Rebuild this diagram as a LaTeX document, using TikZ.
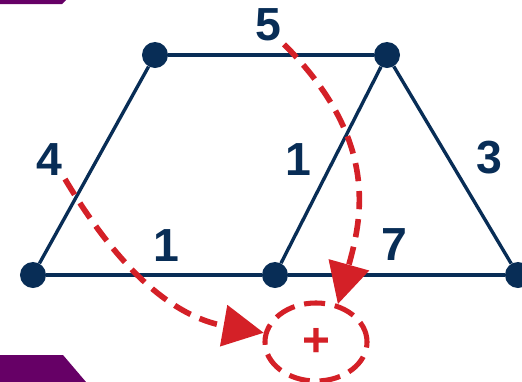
\documentclass[tikz,border=0pt]{standalone}
\usepackage{fontspec}
\setmainfont{Liberation Sans}
\usetikzlibrary{arrows.meta}
\usetikzlibrary{shapes.geometric}

\definecolor{navy}{RGB}{8,45,86}
\definecolor{sumred}{RGB}{212,32,39}
\definecolor{barpurple}{RGB}{102,0,102}

\begin{document}
\begin{tikzpicture}[x=0.025cm, y=-0.025cm,
    dot/.style={circle, fill=navy, inner sep=0pt, minimum size=0.65cm},
    edge/.style={navy, line width=2.4pt},
    lbl/.style={text=navy, font=\fontsize{33}{36}\selectfont\bfseries, inner sep=2pt},
    flow/.style={sumred, line width=4pt, dash pattern=on 13pt off 7pt,
        -{Triangle[length=29pt, width=29pt]}},
    sumnode/.style={ellipse, draw=sumred, line width=3.6pt, dash pattern=on 15pt off 7pt,
        minimum width=2.55cm, minimum height=1.95cm, inner sep=0pt, text=sumred,
        font=\fontsize{34}{36}\selectfont\bfseries}]
    \useasboundingbox (0,0) rectangle (522,382);

    % corner bars
    \fill[barpurple] (0,0) -- (66,0) -- (62,4) -- (0,4) -- cycle;
    \fill[barpurple] (0,355) -- (63,355) -- (86,382) -- (0,382) -- cycle;

    % graph
    \node[dot] (tl) at (155,55) {};
    \node[dot] (tr) at (387,55) {};
    \node[dot] (bl) at (33,275) {};
    \node[dot] (bm) at (275,275) {};
    \node[dot] (br) at (518,275) {};

    \draw[edge] (tl) -- (tr);
    \draw[edge] (tl) -- (bl);
    \draw[edge] (bl) -- (bm);
    \draw[edge] (bm) -- (br);
    \draw[edge] (tr) -- (bm);
    \draw[edge] (tr) -- (br);

    \node[lbl] (lblfive) at (268,25) {5};
    \node[lbl] (lblfour) at (49,160) {4};
    \node[lbl] (lblone) at (298,160) {1};
    \node[lbl] (lblthree) at (489,158) {3};
    \node[lbl] (lblonebot) at (166,246) {1};
    \node[lbl] (lblseven) at (394,245) {7};

    % sum
    \node[sumnode] (sum) at (316,342) {+};

    \draw[flow] (lblfive.south east) .. controls (380,140) and (362,218) .. (sum.60);
    \draw[flow] (lblfour.south east) .. controls (125,280) and (180,318) .. (sum.170);
\end{tikzpicture}
\end{document}
